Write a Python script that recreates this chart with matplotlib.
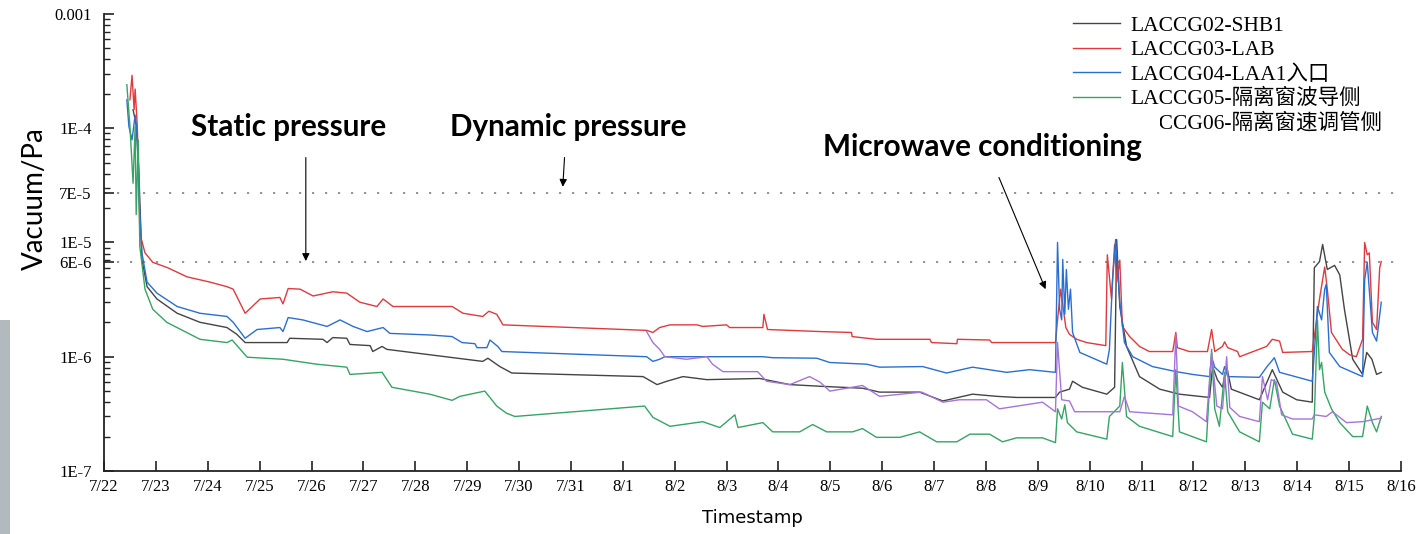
import matplotlib
matplotlib.use("Agg")
import matplotlib.pyplot as plt
from matplotlib.patches import Rectangle

# x values are days since 7/22 00:00, y values are pressures in Pa
date_labels = ["7/22", "7/23", "7/24", "7/25", "7/26", "7/27", "7/28", "7/29", "7/30", "7/31",
               "8/1", "8/2", "8/3", "8/4", "8/5", "8/6", "8/7", "8/8", "8/9", "8/10",
               "8/11", "8/12", "8/13", "8/14", "8/15", "8/16"]

# tick values as they sit on the original axis, with the labels it printed
ytick_vals = [1e-7, 1e-6, 6.7e-6, 1e-5, 2.7e-5, 1e-4, 1e-3]
ytick_text = ["1E-7", "1E-6", "6E-6", "1E-5", "7E-5", "1E-4", "0.001"]
ref_levels = [2.7e-5, 6.7e-6]

series_names = ["LACCG02-SHB1", "LACCG03-LAB", "LACCG04-LAA1入口",
                "LACCG05-隔离窗波导侧", "LACCG06-隔离窗速调管侧"]
series_colors = ["#444444", "#e0393e", "#2a6fd0", "#35a465", "#a574d8"]

g02_day = [0.56, 0.62, 0.67, 0.73, 0.83, 1.02, 1.41, 1.85, 2.37, 2.56, 2.72, 3.53, 3.58, 4.22,
           4.30, 4.41, 4.68, 4.74, 5.13, 5.18, 5.36, 5.45, 6.28, 7.30, 7.40, 7.63, 7.86, 10.39,
           10.66, 10.85, 11.16, 11.62, 12.64, 13.22, 13.85, 14.62, 14.95, 15.72, 16.17, 16.74,
           17.21, 17.59, 18.34, 18.42, 18.61, 18.67, 18.86, 19.33, 19.48, 19.52, 19.58, 19.71,
           19.96, 20.35, 20.73, 21.31, 21.37, 21.46, 21.56, 21.64, 21.73, 22.27, 22.52, 22.72,
           22.99, 23.29, 23.33, 23.43, 23.49, 23.58, 23.72, 23.82, 23.91, 24.07, 24.26, 24.34,
           24.44, 24.53, 24.62]
g02_pa = [1.45e-4, 1.07e-4, 4.3e-5, 7.1e-6, 4.1e-6, 3.2e-6, 2.4e-6, 2.0e-6, 1.8e-6, 1.57e-6,
          1.33e-6, 1.33e-6, 1.45e-6, 1.42e-6, 1.33e-6, 1.47e-6, 1.45e-6, 1.28e-6, 1.25e-6,
          1.11e-6, 1.23e-6, 1.16e-6, 1.04e-6, 9.1e-7, 9.7e-7, 8.2e-7, 7.2e-7, 6.7e-7, 5.7e-7,
          6.1e-7, 6.7e-7, 6.3e-7, 6.45e-7, 5.7e-7, 5.5e-7, 5.3e-7, 4.9e-7, 4.9e-7, 4.1e-7,
          4.7e-7, 4.5e-7, 4.4e-7, 4.4e-7, 4.9e-7, 5.2e-7, 6.1e-7, 5.4e-7, 4.7e-7, 5.4e-7,
          1.06e-5, 2.75e-6, 1.23e-6, 6.7e-7, 5.2e-7, 4.7e-7, 4.4e-7, 8.2e-7, 6.3e-7, 5.4e-7,
          8.2e-7, 5.2e-7, 4.2e-7, 7.7e-7, 4.9e-7, 4.2e-7, 4.0e-7, 6.0e-6, 6.8e-6, 9.6e-6,
          5.8e-6, 6.3e-6, 5.2e-6, 2.6e-6, 9.5e-7, 7.0e-7, 1.09e-6, 9.5e-7, 7.0e-7, 7.3e-7]

g03_day = [0.50, 0.54, 0.58, 0.60, 0.64, 0.67, 0.69, 0.79, 0.94, 1.23, 1.60, 2.04, 2.37, 2.49,
           2.72, 3.01, 3.39, 3.45, 3.55, 3.78, 4.03, 4.41, 4.68, 4.93, 5.26, 5.38, 5.57, 6.71,
           6.92, 7.30, 7.42, 7.57, 7.69, 10.46, 10.58, 10.71, 10.91, 11.43, 11.54, 12.00, 12.06,
           12.70, 12.72, 12.79, 13.80, 14.41, 14.42, 14.89, 15.92, 15.95, 16.44, 16.45, 17.07,
           17.11, 18.34, 18.38, 18.44, 18.54, 18.61, 18.75, 18.94, 19.31, 19.34, 19.42, 19.48,
           19.52, 19.58, 19.63, 19.77, 19.96, 20.15, 20.60, 20.66, 20.69, 20.92, 21.27, 21.35,
           21.41, 21.56, 21.60, 21.66, 21.85, 21.89, 22.41, 22.52, 22.66, 22.72, 23.29, 23.33,
           23.43, 23.53, 23.58, 23.66, 23.87, 24.01, 24.14, 24.26, 24.30, 24.35, 24.39, 24.45,
           24.53, 24.59, 24.62]
g03_pa = [1.77e-4, 2.9e-4, 1.45e-4, 2.2e-4, 1.07e-4, 3.5e-5, 1.2e-5, 8.1e-6, 6.7e-6, 6.0e-6,
          5.0e-6, 4.5e-6, 4.1e-6, 3.9e-6, 2.4e-6, 3.2e-6, 3.3e-6, 2.9e-6, 3.95e-6, 3.9e-6,
          3.4e-6, 3.7e-6, 3.6e-6, 3.0e-6, 2.75e-6, 3.2e-6, 2.75e-6, 2.75e-6, 2.4e-6, 2.25e-6,
          2.5e-6, 2.35e-6, 1.9e-6, 1.7e-6, 1.63e-6, 1.8e-6, 1.9e-6, 1.9e-6, 1.84e-6, 1.9e-6,
          1.8e-6, 1.8e-6, 2.35e-6, 1.73e-6, 1.66e-6, 1.63e-6, 1.5e-6, 1.42e-6, 1.42e-6, 1.33e-6,
          1.3e-6, 1.42e-6, 1.4e-6, 1.33e-6, 1.33e-6, 2.1e-6, 3.9e-6, 1.8e-6, 1.57e-6, 1.42e-6,
          1.33e-6, 1.25e-6, 7.8e-6, 3.2e-6, 9.6e-6, 4.5e-6, 7.0e-6, 1.84e-6, 1.5e-6, 1.23e-6,
          1.11e-6, 1.11e-6, 1.63e-6, 1.2e-6, 1.11e-6, 1.11e-6, 1.73e-6, 1.11e-6, 1.23e-6,
          1.35e-6, 1.2e-6, 1.11e-6, 1.0e-6, 1.23e-6, 1.42e-6, 1.37e-6, 1.09e-6, 1.11e-6, 1.5e-6,
          3.2e-6, 6.1e-6, 3.9e-6, 1.63e-6, 1.16e-6, 1.04e-6, 1.0e-6, 1.42e-6, 1.0e-5, 7.8e-6,
          8.1e-6, 2.0e-6, 1.73e-6, 6.0e-6, 6.8e-6]

g04_day = [0.44, 0.48, 0.54, 0.60, 0.64, 0.67, 0.73, 0.83, 1.02, 1.41, 1.85, 2.37, 2.49, 2.72,
           2.95, 3.39, 3.45, 3.55, 3.83, 4.30, 4.55, 4.80, 5.07, 5.38, 5.51, 6.28, 6.71, 6.90,
           7.15, 7.19, 7.38, 7.44, 7.59, 7.67, 10.46, 10.58, 10.71, 10.81, 12.70, 12.89, 13.74,
           13.99, 14.70, 14.95, 15.78, 16.24, 16.74, 17.40, 17.84, 18.34, 18.38, 18.42, 18.46,
           18.48, 18.52, 18.55, 18.59, 18.63, 18.67, 18.81, 19.33, 19.38, 19.44, 19.50, 19.54,
           19.58, 19.67, 19.83, 20.21, 20.67, 20.98, 21.31, 21.35, 21.41, 21.56, 21.60, 21.66,
           22.27, 22.41, 22.56, 22.66, 23.29, 23.33, 23.39, 23.47, 23.53, 23.56, 23.62, 23.82,
           24.26, 24.30, 24.35, 24.45, 24.53, 24.62]
g04_pa = [1.77e-4, 1.03e-4, 7.9e-5, 1.3e-4, 8.4e-5, 2.7e-5, 8.1e-6, 4.5e-6, 3.6e-6, 2.75e-6,
          2.4e-6, 2.25e-6, 2.0e-6, 1.45e-6, 1.73e-6, 1.8e-6, 1.66e-6, 2.2e-6, 2.1e-6, 1.84e-6,
          2.1e-6, 1.84e-6, 1.66e-6, 1.8e-6, 1.6e-6, 1.55e-6, 1.5e-6, 1.33e-6, 1.3e-6, 1.2e-6,
          1.2e-6, 1.4e-6, 1.23e-6, 1.11e-6, 1.0e-6, 9.1e-7, 9.5e-7, 1.0e-6, 1.0e-6, 9.8e-7,
          9.7e-7, 8.9e-7, 8.6e-7, 8.1e-7, 8.2e-7, 7.2e-7, 8.1e-7, 7.3e-7, 7.7e-7, 7.3e-7,
          1.0e-5, 2.6e-6, 2.1e-6, 7.1e-6, 2.35e-6, 5.8e-6, 2.6e-6, 3.9e-6, 1.63e-6, 1.09e-6,
          8.6e-7, 1.16e-6, 4.7e-6, 1.06e-5, 5.8e-6, 3.0e-6, 1.33e-6, 1.0e-6, 8.2e-7, 7.4e-7,
          7.0e-7, 6.7e-7, 1.0e-6, 8.1e-7, 7.0e-7, 8.2e-7, 6.7e-7, 6.6e-7, 8.1e-7, 9.8e-7,
          7.3e-7, 6.1e-7, 1.09e-6, 2.75e-6, 2.1e-6, 3.9e-6, 4.3e-6, 1.09e-6, 8.2e-7, 6.7e-7,
          4.7e-6, 6.7e-6, 1.63e-6, 1.37e-6, 3.0e-6]

g05_day = [0.44, 0.50, 0.56, 0.60, 0.62, 0.66, 0.69, 0.79, 0.94, 1.21, 1.85, 2.37, 2.47, 2.76,
           3.45, 4.10, 4.68, 4.74, 5.36, 5.55, 6.28, 6.71, 6.86, 7.34, 7.57, 7.76, 7.92, 10.42,
           10.58, 10.91, 11.54, 11.87, 12.16, 12.22, 12.70, 12.89, 13.41, 13.66, 13.93, 14.43,
           14.62, 14.89, 15.34, 15.72, 16.05, 16.44, 16.69, 17.07, 17.32, 17.59, 18.09, 18.34,
           18.38, 18.46, 18.52, 18.57, 18.75, 19.33, 19.38, 19.58, 19.63, 19.71, 19.96, 20.60,
           20.66, 20.73, 21.25, 21.35, 21.41, 21.50, 21.60, 21.66, 21.89, 22.27, 22.33, 22.47,
           22.56, 22.66, 22.91, 23.29, 23.33, 23.39, 23.43, 23.47, 23.53, 23.66, 23.82, 24.07,
           24.26, 24.35, 24.45, 24.53, 24.62]
g05_pa = [2.4e-4, 1.03e-4, 3.3e-5, 1.03e-4, 1.75e-5, 7.9e-5, 9.2e-6, 3.9e-6, 2.6e-6, 2.0e-6,
          1.42e-6, 1.33e-6, 1.4e-6, 9.9e-7, 9.5e-7, 8.6e-7, 8.1e-7, 7.0e-7, 7.3e-7, 5.4e-7,
          4.7e-7, 4.15e-7, 4.5e-7, 5.0e-7, 3.7e-7, 3.2e-7, 3.0e-7, 3.7e-7, 2.95e-7, 2.46e-7,
          2.7e-7, 2.4e-7, 3.1e-7, 2.4e-7, 2.65e-7, 2.2e-7, 2.2e-7, 2.55e-7, 2.2e-7, 2.2e-7,
          2.35e-7, 1.97e-7, 1.97e-7, 2.2e-7, 1.8e-7, 1.8e-7, 2.1e-7, 2.1e-7, 1.8e-7, 1.95e-7,
          1.95e-7, 1.77e-7, 3.5e-7, 2.85e-7, 3.8e-7, 2.65e-7, 2.2e-7, 1.9e-7, 3.0e-7, 3.7e-7,
          8.9e-7, 3.0e-7, 2.46e-7, 2.0e-7, 7.7e-7, 2.2e-7, 1.8e-7, 1.16e-6, 3.5e-7, 2.46e-7,
          7.3e-7, 3.3e-7, 2.2e-7, 1.8e-7, 4.0e-7, 3.5e-7, 6.3e-7, 3.7e-7, 2.1e-7, 1.9e-7,
          3.0e-7, 2.1e-6, 7.7e-7, 8.9e-7, 4.9e-7, 3.5e-7, 2.65e-7, 2.0e-7, 2.0e-7, 3.7e-7,
          2.65e-7, 2.2e-7, 3.0e-7]

g06_day = [10.46, 10.58, 10.71, 10.81, 11.23, 11.62, 11.73, 11.93, 12.60, 12.77, 13.22, 13.60,
           13.80, 13.99, 14.62, 14.95, 15.76, 16.17, 16.49, 17.01, 17.26, 18.09, 18.34, 18.38,
           18.46, 18.61, 18.71, 19.33, 19.58, 19.67, 19.77, 20.60, 20.66, 20.71, 20.98, 21.25,
           21.35, 21.45, 21.56, 21.64, 21.70, 21.89, 22.27, 22.33, 22.43, 22.50, 22.60, 22.70,
           22.91, 23.29, 23.33, 23.56, 23.68, 23.95, 24.26, 24.62]
g06_pa = [1.66e-6, 1.33e-6, 1.16e-6, 1.0e-6, 9.5e-7, 1.0e-6, 8.6e-7, 7.4e-7, 7.4e-7, 6.1e-7,
          5.7e-7, 6.7e-7, 6.0e-7, 5.0e-7, 5.6e-7, 4.5e-7, 4.9e-7, 4.0e-7, 4.2e-7, 4.2e-7,
          3.5e-7, 4.0e-7, 3.3e-7, 1.33e-6, 4.2e-7, 4.1e-7, 3.3e-7, 3.3e-7, 3.3e-7, 4.5e-7,
          3.3e-7, 3.1e-7, 1.56e-6, 3.7e-7, 3.3e-7, 2.7e-7, 1.09e-6, 3.7e-7, 3.5e-7, 1.0e-6,
          3.6e-7, 3.0e-7, 2.7e-7, 6.7e-7, 4.2e-7, 6.3e-7, 6.0e-7, 3.1e-7, 2.85e-7, 2.85e-7,
          3.1e-7, 3.0e-7, 3.3e-7, 2.65e-7, 2.7e-7, 2.9e-7]

series = [(g02_day, g02_pa), (g03_day, g03_pa), (g04_day, g04_pa),
          (g05_day, g05_pa), (g06_day, g06_pa)]

serif = ["Liberation Serif", "Noto Sans CJK SC"]

fig = plt.figure(figsize=(14.21, 5.34), dpi=100)
ax = fig.add_axes([0.0732, 0.118, 0.9127, 0.856])

for (d, p), name, col in zip(series, series_names, series_colors):
    ax.plot(d, p, color=col, lw=1.0, label=name)

for lvl in ref_levels:
    ax.axhline(lvl, color="#8a8a8a", lw=1.3, ls=(0, (1.2, 6)), zorder=1)

ax.set_yscale("log")
ax.set_ylim(1e-7, 1e-3)
ax.set_xlim(0, 25)
ax.set_yticks(ytick_vals)
ax.set_yticklabels(ytick_text, fontfamily=serif, fontsize=12)
ax.set_xticks(range(len(date_labels)))
ax.set_xticklabels(date_labels, fontfamily=serif, fontsize=12)

for side in ("top", "right"):
    ax.spines[side].set_visible(False)
for side in ("left", "bottom"):
    ax.spines[side].set_linewidth(1.3)
    ax.spines[side].set_color("#222222")
ax.tick_params(axis="both", which="major", direction="in", length=7, width=1.2,
               color="#222222")
ax.tick_params(axis="y", which="minor", direction="in", length=4, width=1.0,
               color="#222222")
ax.tick_params(axis="y", which="major", pad=9)
ax.tick_params(axis="x", which="major", pad=6)

ax.set_ylabel("Vacuum/Pa", fontfamily="Lato", fontsize=20, labelpad=3)
ax.yaxis.set_label_coords(-0.043, 0.595)
ax.set_xlabel("Timestamp", fontfamily=["Liberation Sans Narrow", "DejaVu Sans"],
              fontsize=13, labelpad=10)

leg = ax.legend(loc="upper left", bbox_to_anchor=(0.737, 1.024), frameon=False,
                prop={"family": serif, "size": 15.5}, handlelength=2.2,
                handletextpad=0.47, labelspacing=0.2, borderaxespad=0.2)

bold = dict(fontfamily="Lato", fontweight="bold", fontsize=21.3, ha="center", va="center")
ax.text(3.55, 1.03e-4, "Static pressure", **bold)
ax.text(8.94, 1.03e-4, "Dynamic pressure", **bold)
ax.text(16.94, 6.9e-5, "Microwave conditioning", zorder=6,
        bbox=dict(facecolor="white", edgecolor="none", pad=13), **bold)

arrow = dict(arrowstyle="-|>", color="black", lw=0.8, mutation_scale=11)
ax.annotate("", xy=(3.89, 6.5e-6), xytext=(3.89, 5.85e-5), arrowprops=arrow)
ax.annotate("", xy=(8.84, 2.9e-5), xytext=(8.88, 5.85e-5), arrowprops=arrow)
ax.annotate("", xy=(18.17, 3.7e-6), xytext=(17.23, 3.9e-5), arrowprops=arrow, zorder=7)

# strip of photo bleeding in at the left edge of the slide
fig.patches.append(Rectangle((0, 0), 0.007, 0.4, transform=fig.transFigure,
                             facecolor="#b3babd", edgecolor="none"))

fig.savefig("out.png", dpi=100)
